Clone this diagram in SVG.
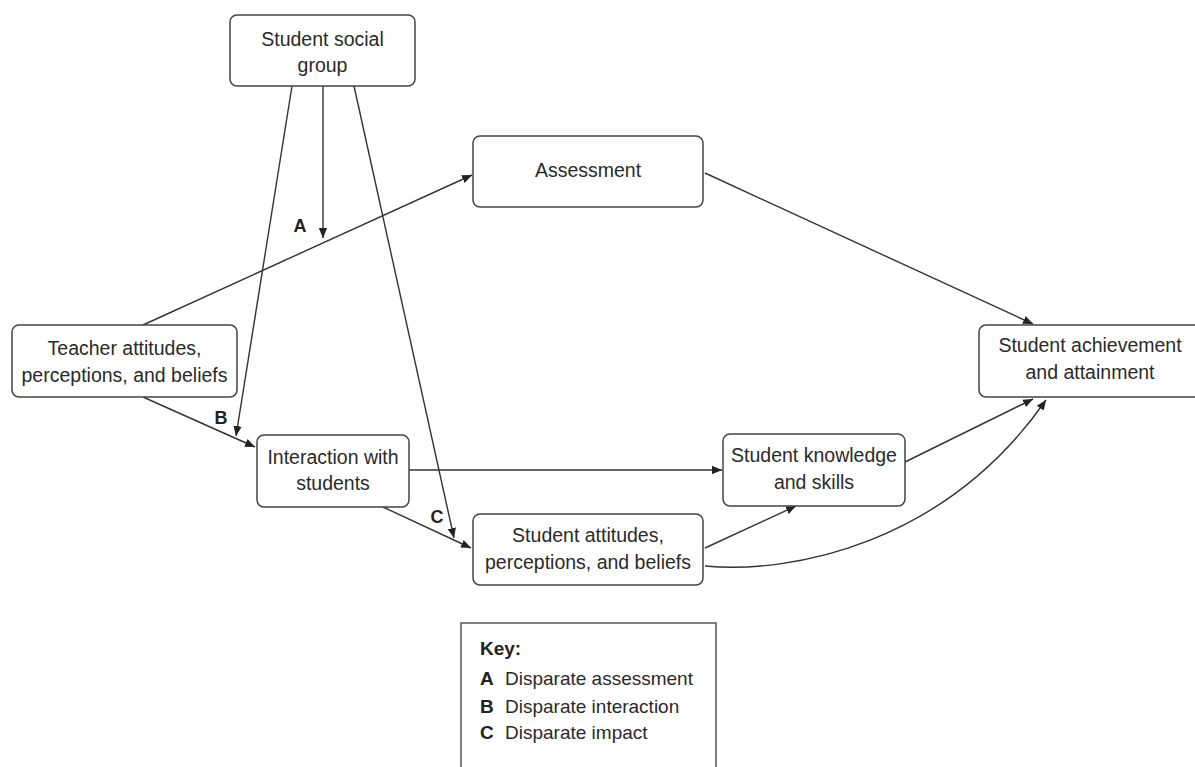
<svg xmlns="http://www.w3.org/2000/svg" width="1195" height="767" viewBox="0 0 1195 767">
<defs>
<marker id="arr" viewBox="0 0 10 10" refX="10" refY="5" markerWidth="10" markerHeight="10" markerUnits="userSpaceOnUse" orient="auto">
<path d="M0,0.8 L10,5 L0,9.2 Z" fill="#222"/>
</marker>
<style>
.box{fill:#fff;stroke:#444;stroke-width:1.5}
.t{font-family:"Liberation Sans",Arial,sans-serif;font-size:19.5px;fill:#2a2a2a;text-anchor:middle}
.lab{font-family:"Liberation Sans",Arial,sans-serif;font-size:18px;font-weight:bold;fill:#222;text-anchor:middle}
.k{font-family:"Liberation Sans",Arial,sans-serif;font-size:19px;fill:#2a2a2a}
.kb{font-family:"Liberation Sans",Arial,sans-serif;font-size:19px;font-weight:bold;fill:#222}
.c{fill:none;stroke:#333;stroke-width:1.4;marker-end:url(#arr)}
</style>
</defs>
<rect width="1195" height="767" fill="#fff"/>
<g id="connectors">
<line class="c" x1="292" y1="86" x2="236" y2="436"/>
<line class="c" x1="323" y1="86" x2="323" y2="238"/>
<line class="c" x1="354" y1="86" x2="454" y2="538"/>
<line class="c" x1="143" y1="325" x2="472" y2="175"/>
<line class="c" x1="143" y1="397" x2="255" y2="447"/>
<line class="c" x1="383" y1="507" x2="471" y2="548"/>
<line class="c" x1="409" y1="470" x2="722" y2="470"/>
<line class="c" x1="705" y1="548" x2="796" y2="506"/>
<path class="c" d="M705,566 C790,574 945,545 1046,400"/>
<line class="c" x1="905" y1="462" x2="1033" y2="399"/>
<line class="c" x1="705" y1="173" x2="1033" y2="324"/>
<text class="lab" x="300" y="232">A</text>
<text class="lab" x="221" y="424">B</text>
<text class="lab" x="437" y="523">C</text>
</g>
<g id="social">
<rect class="box" x="230" y="15" width="185" height="71" rx="7"/>
<text class="t" x="322.5" y="46">Student social</text>
<text class="t" x="322.5" y="72">group</text>
</g>
<g id="assessment">
<rect class="box" x="473" y="136" width="230" height="71" rx="7"/>
<text class="t" x="588" y="177">Assessment</text>
</g>
<g id="teacher">
<rect class="box" x="12" y="325" width="225" height="72" rx="7"/>
<text class="t" x="124.5" y="355">Teacher attitudes,</text>
<text class="t" x="124.5" y="382">perceptions, and beliefs</text>
</g>
<g id="interaction">
<rect class="box" x="257" y="435" width="152" height="72" rx="7"/>
<text class="t" x="333" y="464">Interaction with</text>
<text class="t" x="333" y="490">students</text>
</g>
<g id="sattitudes">
<rect class="box" x="473" y="514" width="230" height="71" rx="7"/>
<text class="t" x="588" y="542">Student attitudes,</text>
<text class="t" x="588" y="569">perceptions, and beliefs</text>
</g>
<g id="knowledge">
<rect class="box" x="723" y="434" width="182" height="72" rx="7"/>
<text class="t" x="814" y="462">Student knowledge</text>
<text class="t" x="814" y="489">and skills</text>
</g>
<g id="achievement">
<rect class="box" x="979" y="325" width="225" height="72" rx="7"/>
<text class="t" x="1090" y="352">Student achievement</text>
<text class="t" x="1090" y="379">and attainment</text>
</g>
<g id="key">
<rect x="461" y="623" width="255" height="160" fill="#fff" stroke="#555" stroke-width="1.5"/>
<text class="kb" x="480" y="655">Key:</text>
<text class="kb" x="480" y="685">A</text>
<text class="k" x="505" y="685">Disparate assessment</text>
<text class="kb" x="480" y="713">B</text>
<text class="k" x="505" y="713">Disparate interaction</text>
<text class="kb" x="480" y="739">C</text>
<text class="k" x="505" y="739">Disparate impact</text>
</g>
</svg>
